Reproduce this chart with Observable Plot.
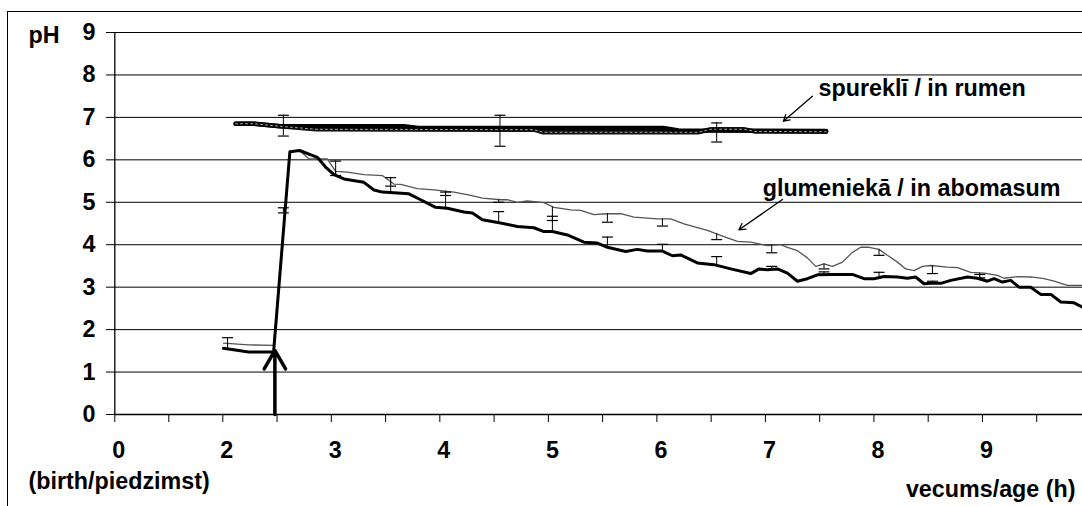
<!DOCTYPE html>
<html><head><meta charset="utf-8">
<script src="https://cdn.jsdelivr.net/npm/d3@7"></script>
<script src="https://cdn.jsdelivr.net/npm/@observablehq/plot@0.6"></script>
<style>
html,body{margin:0;padding:0;background:#fff;overflow:hidden;width:1082px;height:506px;}
#frame{position:absolute;left:7px;top:11px;width:1200px;height:600px;border:1px solid #000;box-sizing:border-box;}
#chart{position:absolute;left:0;top:0;}
</style></head><body>
<div id="frame"></div><div id="chart"></div>
<script>
// ---- data (hours of age, pH) ----
const rumenAX  = [2.118, 2.287, 2.53, 3.67, 3.80, 6.06, 6.20, 7.56];
const rumenAPH = [6.85, 6.85, 6.79, 6.79, 6.75, 6.75, 6.69, 6.68];
const rumenBX  = [2.118, 2.287, 2.53, 2.86, 4.87, 4.95, 6.38, 6.50, 6.80, 6.90, 7.56];
const rumenBPH = [6.85, 6.85, 6.79, 6.72, 6.71, 6.65, 6.65, 6.72, 6.72, 6.67, 6.66];

const abomThickX = [2.007,2.237,2.468,2.618,2.708,2.871,2.947,3.024,3.116,3.300,3.393,3.470,3.715,3.823,3.961,4.069,4.222,4.300,4.392,4.560,4.714,4.867,4.959,5.037,5.175,5.328,5.452,5.544,5.712,5.820,5.912,6.051,6.143,6.219,6.373,6.526,6.680,6.865,6.941,7.018,7.111,7.203,7.295,7.387,7.479,7.618,7.802,7.909,8.001,8.093,8.217,8.309,8.385,8.462,8.524,8.617,8.708,8.862,8.954,9.046,9.107,9.184,9.261,9.337,9.445,9.537,9.630,9.722,9.844,9.922];
const abomThickPH = [1.56,1.47,1.47,6.19,6.22,6.06,5.83,5.65,5.55,5.47,5.29,5.24,5.20,5.06,4.88,4.86,4.77,4.75,4.59,4.51,4.43,4.40,4.31,4.31,4.23,4.06,4.04,3.94,3.84,3.89,3.85,3.85,3.74,3.76,3.57,3.53,3.43,3.32,3.43,3.41,3.43,3.33,3.14,3.20,3.29,3.30,3.30,3.20,3.20,3.25,3.24,3.21,3.24,3.08,3.09,3.09,3.16,3.24,3.21,3.14,3.20,3.12,3.16,3.00,3.00,2.83,2.83,2.65,2.63,2.53];

const abomThinX = [2.007,2.237,2.468,2.618,2.708,2.794,2.963,3.040,3.147,3.300,3.470,3.577,3.639,3.793,3.946,4.130,4.284,4.392,4.560,4.622,4.714,4.806,4.959,5.052,5.206,5.298,5.420,5.544,5.667,5.789,6.005,6.127,6.250,6.465,6.618,6.742,6.865,7.018,7.141,7.203,7.295,7.387,7.464,7.540,7.618,7.710,7.802,7.878,7.955,8.047,8.124,8.217,8.293,8.370,8.447,8.524,8.677,8.770,8.892,9.015,9.138,9.199,9.323,9.445,9.568,9.660,9.783,9.922];
const abomThinPH = [1.68,1.64,1.63,6.19,6.22,6.02,6.02,5.73,5.71,5.65,5.63,5.43,5.42,5.32,5.29,5.24,5.16,5.10,5.06,5.06,5.00,5.03,4.99,4.88,4.82,4.81,4.71,4.73,4.73,4.65,4.61,4.61,4.49,4.34,4.19,4.08,4.06,3.98,4.00,3.94,3.86,3.69,3.49,3.55,3.49,3.59,3.82,3.94,3.94,3.89,3.75,3.59,3.43,3.39,3.49,3.51,3.47,3.46,3.35,3.33,3.28,3.21,3.25,3.24,3.20,3.14,3.04,3.04];

// error bars (abomasum: thin series minus, thick series plus)
const errX      = [2.044,2.558,3.040,3.547,4.053,4.542,5.037,5.544,6.051,6.551,7.058,7.540,8.047,8.539,8.975];
const thinBase  = [1.67,4.81,5.73,5.47,5.26,5.06,4.88,4.73,4.61,4.26,3.98,3.55,3.89,3.51,3.33];
const thinLo    = [1.55,4.75,5.63,5.38,5.16,5.00,4.57,4.53,4.44,4.12,3.81,3.43,3.75,3.32,3.22];
const thickBase = [1.56,4.81,5.63,5.25,4.86,4.51,4.31,3.94,3.85,3.53,3.42,3.30,3.25,3.09,3.21];
const thickHi   = [1.81,4.87,5.97,5.58,5.24,4.78,4.67,4.18,4.01,3.72,3.49,3.36,3.35,3.14,3.30];
// rumen error bars (symmetric)
const rumenErrX  = [2.558, 4.554, 6.551];
const rumenErrLo = [6.56, 6.32, 6.42];
const rumenErrHi = [7.05, 7.05, 6.87];

// axes
const yTicks = [0,1,2,3,4,5,6,7,8,9];
const yGrid = [1,2,3,4,5,6,7,8,9];
const xTickMarks = [0,1,2,2.5,3,3.5,4,4.5,5,5.5,6,6.5,7,7.5,8,8.5,9,9.5];
const xTickLabels = [0,2,3,4,5,6,7,8,9];

// annotations
const labelText = ["spureklī / in rumen", "glumeniekā / in abomasum"];
const labelX = [7.49, 6.975];
const labelY = [7.68, 5.33];
const pointerX1 = [7.433, 7.157], pointerY1 = [7.50, 5.066];
const pointerX2 = [7.166, 6.757], pointerY2 = [6.91, 4.352];
const feedX = [2.48], feedFrom = [0], feedTo = [1.51];

// ---- build ----
const zip = (xs, ys) => xs.map((x, i) => ({x, y: ys[i]}));
const rumenA = zip(rumenAX, rumenAPH);
const rumenB = zip(rumenBX, rumenBPH);
const abomThick = zip(abomThickX, abomThickPH);
const abomThin = zip(abomThinX, abomThinPH);
const thinBars = errX.map((x, i) => ({x, y1: thinBase[i], y2: thinLo[i]}));
const thickBars = errX.map((x, i) => ({x, y1: thickBase[i], y2: thickHi[i]}));
const rumenBars = rumenErrX.map((x, i) => ({x, lo: rumenErrLo[i], hi: rumenErrHi[i]}));
const labels = labelText.map((t, i) => ({t, x: labelX[i], y: labelY[i]}));
const pointers = pointerX1.map((x, i) => ({x1: x, y1: pointerY1[i], x2: pointerX2[i], y2: pointerY2[i]}));
const feed = feedX.map((x, i) => ({x, y1: feedFrom[i], y2: feedTo[i]}));

const cap = {draw(ctx) { ctx.moveTo(-5.5, 0); ctx.lineTo(5.5, 0); }};

const chart = Plot.plot({
  width: 1082, height: 506,
  marginLeft: 114, marginRight: 0, marginTop: 32, marginBottom: 92,
  style: {fontFamily: "'Liberation Sans', Arial, sans-serif", fontSize: "23.3px", fontWeight: "bold", background: "transparent", color: "#000"},
  x: {type: "linear", domain: [0, 2, 9.922], range: [114.3, 222.3, 1082], label: null},
  y: {domain: [0, 9], label: null},
  marks: [
    Plot.ruleY(yGrid, {stroke: "#000", strokeWidth: 1}),
    Plot.ruleY([0], {stroke: "#000", strokeWidth: 1.3}),
    Plot.ruleX([0], {stroke: "#000", strokeWidth: 1.3}),
    Plot.axisY({ticks: yTicks, tickSize: 8, tickPadding: 11, label: null, stroke: "#000"}),
    Plot.axisX({ticks: xTickMarks, tickSize: 8, tickFormat: () => "", label: null, stroke: "#000"}),
    Plot.text(xTickLabels, {x: d => d, text: d => String(d), frameAnchor: "bottom", lineAnchor: "middle", dy: 36, dx: 4}),
    // rumen
    Plot.line(rumenB, {x: "x", y: "y", stroke: "#111", strokeWidth: 4.5, strokeLinecap: "round", strokeLinejoin: "round"}),
    Plot.line(rumenA, {x: "x", y: "y", stroke: "#000", strokeWidth: 4.5, strokeLinecap: "round", strokeLinejoin: "round"}),
    Plot.line(rumenB, {x: "x", y: "y", stroke: "#aaa", strokeWidth: 1, strokeDasharray: "2,3"}),
    // abomasum
    Plot.line(abomThin, {x: "x", y: "y", stroke: "#555", strokeWidth: 1.3}),
    Plot.line(abomThick, {x: "x", y: "y", stroke: "#000", strokeWidth: 3, strokeLinejoin: "round"}),
    // error bars
    Plot.ruleX(thinBars, {x: "x", y1: "y1", y2: "y2", stroke: "#000", strokeWidth: 1}),
    Plot.dot(thinBars, {x: "x", y: "y2", symbol: cap, stroke: "#000", strokeWidth: 1.2, fill: "none"}),
    Plot.ruleX(thickBars, {x: "x", y1: "y1", y2: "y2", stroke: "#000", strokeWidth: 1}),
    Plot.dot(thickBars, {x: "x", y: "y2", symbol: cap, stroke: "#000", strokeWidth: 1.2, fill: "none"}),
    Plot.ruleX(rumenBars, {x: "x", y1: "lo", y2: "hi", stroke: "#000", strokeWidth: 1}),
    Plot.dot(rumenBars, {x: "x", y: "lo", symbol: cap, stroke: "#000", strokeWidth: 1.2, fill: "none"}),
    Plot.dot(rumenBars, {x: "x", y: "hi", symbol: cap, stroke: "#000", strokeWidth: 1.2, fill: "none"}),
    // annotations
    Plot.arrow(feed, {x: "x", y1: "y1", y2: "y2", stroke: "#000", strokeWidth: 3.5, headLength: 10.5, headAngle: 60}),
    Plot.arrow(pointers, {x1: "x1", y1: "y1", x2: "x2", y2: "y2", stroke: "#000", strokeWidth: 1.3, headLength: 8}),
    Plot.text(labels, {x: "x", y: "y", text: "t", textAnchor: "start", lineAnchor: "middle"}),
    Plot.text(["pH"], {frameAnchor: "top-left", textAnchor: "start", lineAnchor: "middle", dx: -86, dy: 3}),
    Plot.text(["(birth/piedzimst)"], {frameAnchor: "bottom-left", textAnchor: "start", lineAnchor: "middle", dx: -86, dy: 67}),
    Plot.text(["vecums/age (h)"], {frameAnchor: "bottom-right", textAnchor: "end", lineAnchor: "middle", dx: -7, dy: 75})
  ]
});
document.getElementById("chart").appendChild(chart);
</script></body></html>
